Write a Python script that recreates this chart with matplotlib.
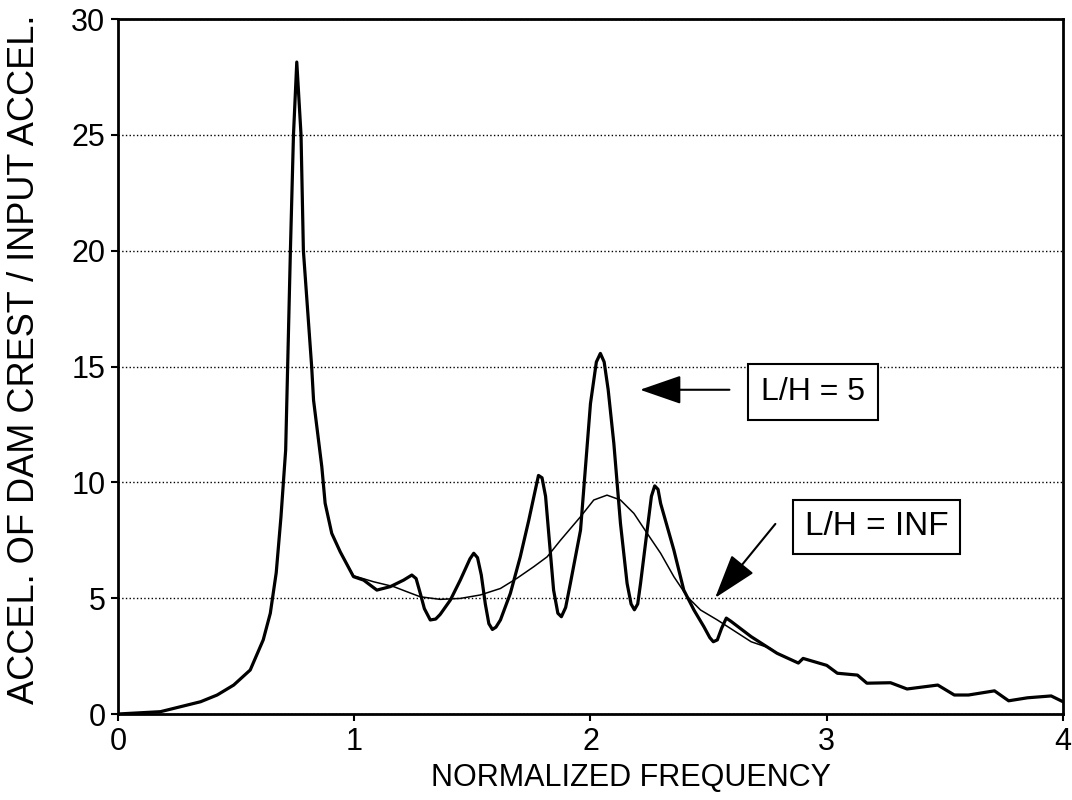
import matplotlib
matplotlib.use("Agg")
import matplotlib.pyplot as plt

plt.rcParams['font.family'] = ['Liberation Sans', 'DejaVu Sans']

# L/H = 5 response (thick curve)
freq_5 = [0.0, 0.18, 0.35, 0.42, 0.49, 0.56, 0.615, 0.645, 0.67, 0.69, 0.71,
          0.73, 0.743, 0.757, 0.775, 0.785, 0.82, 0.828, 0.863, 0.877, 0.905,
          0.941, 0.997, 1.04, 1.096, 1.153, 1.209, 1.244, 1.262, 1.28, 1.297,
          1.322, 1.345, 1.364, 1.407, 1.449, 1.49, 1.506, 1.522, 1.538, 1.555,
          1.57, 1.585, 1.60, 1.619, 1.661, 1.703, 1.739, 1.765, 1.78, 1.795,
          1.81, 1.825, 1.844, 1.862, 1.877, 1.895, 1.915, 1.958, 2.0, 2.025,
          2.042, 2.058, 2.075, 2.099, 2.127, 2.155, 2.172, 2.186, 2.2, 2.212,
          2.24, 2.258, 2.272, 2.286, 2.297, 2.353, 2.395, 2.438, 2.48, 2.505,
          2.52, 2.537, 2.555, 2.575, 2.595, 2.68, 2.79, 2.88, 2.90, 3.0,
          3.045, 3.13, 3.17, 3.27, 3.34, 3.47, 3.54, 3.6, 3.71, 3.77, 3.85,
          3.95, 4.0]
acc_5 = [0.0, 0.1, 0.53, 0.82, 1.25, 1.9, 3.2, 4.35, 6.1, 8.5, 11.4,
         20.0, 25.0, 28.15, 25.0, 20.0, 15.0, 13.55, 10.67, 9.1, 7.8,
         7.0, 5.93, 5.78, 5.35, 5.5, 5.78, 6.0, 5.85, 5.2, 4.55,
         4.06, 4.1, 4.3, 4.92, 5.78, 6.7, 6.94, 6.75, 6.0, 4.75,
         3.9, 3.65, 3.75, 4.06, 5.21, 6.79, 8.37, 9.6, 10.3, 10.2,
         9.4, 7.6, 5.35, 4.35, 4.2, 4.6, 5.64, 7.94, 13.4, 15.2,
         15.57, 15.2, 14.0, 11.68, 8.23, 5.64, 4.75, 4.5, 4.75, 5.64,
         7.94, 9.4, 9.85, 9.7, 9.09, 7.08, 5.35, 4.49, 3.77, 3.3,
         3.12, 3.2, 3.7, 4.14, 4.0, 3.34, 2.62, 2.2, 2.4, 2.1,
         1.76, 1.68, 1.33, 1.35, 1.08, 1.25, 0.82, 0.82, 1.0, 0.57, 0.7,
         0.78, 0.53]

# L/H = INF response (thin curve)
freq_inf = [0.0, 0.18, 0.35, 0.42, 0.49, 0.56, 0.615, 0.645, 0.67, 0.69, 0.71,
            0.73, 0.743, 0.757, 0.775, 0.785, 0.82, 0.828, 0.863, 0.877, 0.905,
            0.941, 0.997, 1.082, 1.167, 1.223, 1.28, 1.364, 1.449, 1.534,
            1.619, 1.689, 1.76, 1.817, 1.873, 1.958, 2.014, 2.07, 2.127,
            2.184, 2.24, 2.297, 2.353, 2.41, 2.466, 2.537, 2.68, 2.76, 2.79,
            2.88, 2.90, 3.0, 3.045, 3.13, 3.17, 3.27, 3.34, 3.47, 3.54, 3.6,
            3.71, 3.77, 3.85, 3.95, 4.0]
acc_inf = [0.0, 0.1, 0.53, 0.82, 1.25, 1.9, 3.2, 4.35, 6.1, 8.5, 11.4,
           20.0, 25.0, 28.15, 25.0, 20.0, 15.0, 13.55, 10.67, 9.1, 7.8,
           7.0, 5.97, 5.71, 5.5, 5.28, 5.06, 4.95, 4.99, 5.14,
           5.42, 5.86, 6.36, 6.79, 7.5, 8.52, 9.24, 9.45, 9.24,
           8.66, 7.8, 6.94, 5.93, 5.06, 4.49, 4.06, 3.12, 2.84, 2.62,
           2.2, 2.4, 2.1, 1.76, 1.68, 1.33, 1.35, 1.08, 1.25, 0.82, 0.82,
           1.0, 0.57, 0.7, 0.78, 0.53]

x_ticks = [0, 1, 2, 3, 4]
y_ticks = [0, 5, 10, 15, 20, 25, 30]

fig = plt.figure(figsize=(10.72, 8), dpi=100)
ax = fig.add_axes([0.110, 0.1075, 0.8816, 0.8685])

ax.plot(freq_inf, acc_inf, color='black', linewidth=1.1)
ax.plot(freq_5, acc_5, color='black', linewidth=2.3, solid_joinstyle='round')

ax.set_xlim(0, 4)
ax.set_ylim(0, 30)
ax.set_xticks(x_ticks)
ax.set_yticks(y_ticks)
ax.yaxis.grid(True, linestyle=':', color='black', linewidth=1)
ax.set_axisbelow(True)

for s in ax.spines.values():
    s.set_linewidth(2)
ax.tick_params(direction='out', length=5, width=1.5, labelsize=22, pad=4)

ax.set_xlabel('NORMALIZED FREQUENCY', fontsize=22)
ax.xaxis.set_label_coords(0.543, -0.071)
ax.set_ylabel('ACCEL. OF DAM CREST / INPUT ACCEL.', fontsize=26)
ax.yaxis.set_label_coords(-0.08, 0.51)

# annotations
ax.annotate('', xy=(2.198, 14.0), xytext=(2.60, 14.0),
            arrowprops=dict(arrowstyle='-|>,head_length=1.3,head_width=0.45',
                            color='black', lw=1.5, mutation_scale=20))
ax.text(2.942, 13.91, 'L/H = 5', fontsize=23, ha='center', va='center',
        bbox=dict(boxstyle='square,pad=0.4', fc='white', ec='black', lw=1.5))

ax.annotate('', xy=(2.52, 4.92), xytext=(2.79, 8.3),
            arrowprops=dict(arrowstyle='-|>,head_length=1.4,head_width=0.45',
                            color='black', lw=1.5, mutation_scale=20))
ax.text(3.211, 8.08, 'L/H = INF', fontsize=24, ha='center', va='center',
        bbox=dict(boxstyle='square,pad=0.35', fc='white', ec='black', lw=1.5))

plt.savefig('out.png', dpi=100)
